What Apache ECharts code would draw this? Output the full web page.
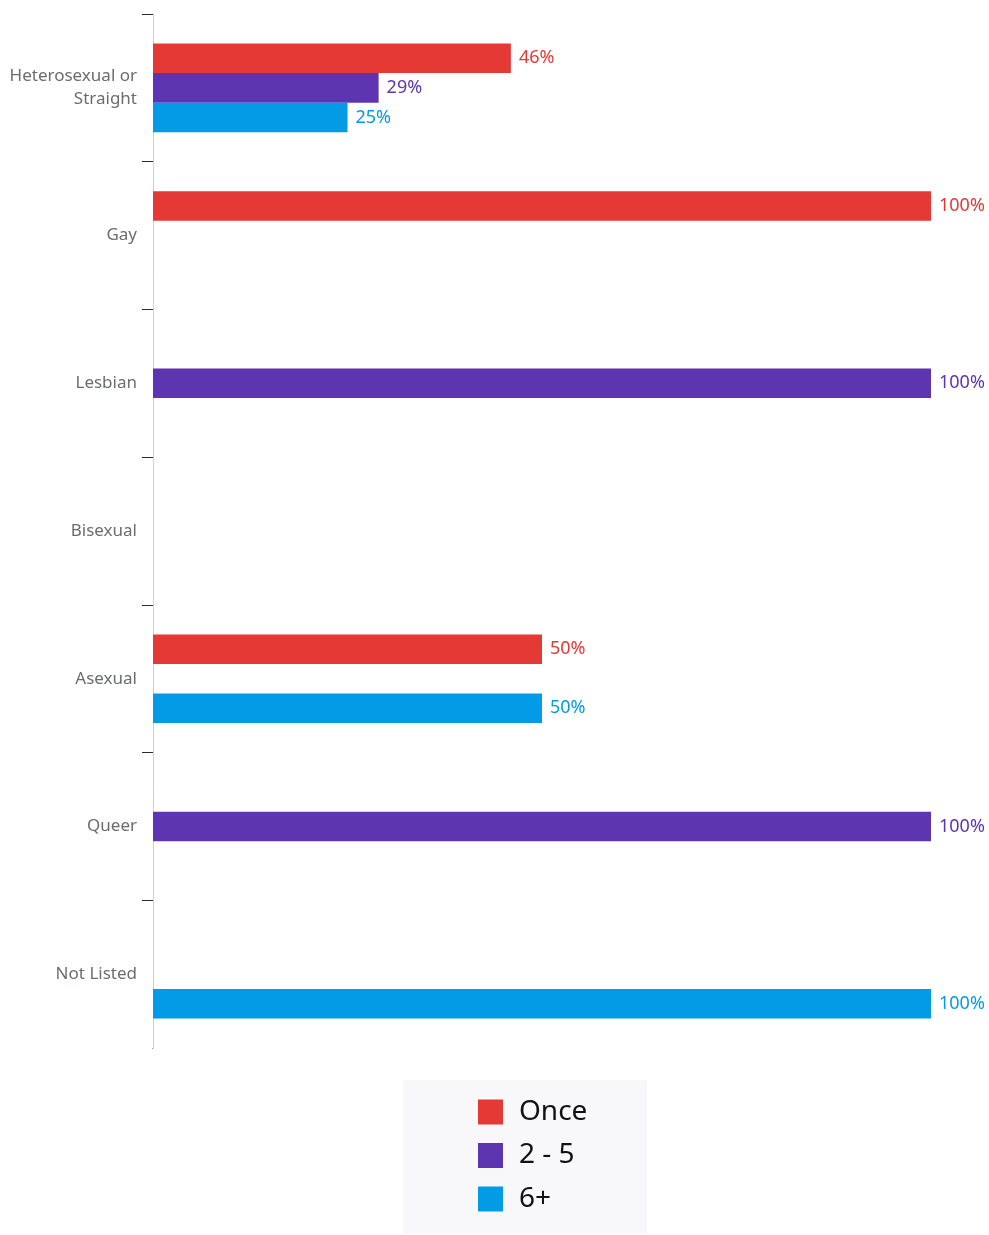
<!DOCTYPE html>
<html>
<head>
<meta charset="utf-8">
<script src="https://cdn.jsdelivr.net/npm/echarts@6/dist/echarts.min.js"></script>
<style>html,body{margin:0;padding:0;background:#fff;}#c{width:989px;height:1235px;}</style>
</head>
<body>
<div id="c"></div>
<script>
const categories = ['Heterosexual or\nStraight', 'Gay', 'Lesbian', 'Bisexual', 'Asexual', 'Queer', 'Not Listed'];
const seriesNames = ['Once', '2 - 5', '6+'];
const onceValues = [46, 100, null, null, 50, null, null];
const twoToFiveValues = [29, null, 100, null, null, 100, null];
const sixPlusValues = [25, null, null, null, 50, null, 100];
const colors = ['#E53935', '#5E35B1', '#039BE5'];

const chart = echarts.init(document.getElementById('c'), null, {renderer: 'canvas'});
const font = '"Noto Sans", sans-serif';
function mk(name, data, color) {
  return {
    name: name, type: 'bar', data: data,
    barGap: 0, barCategoryGap: '40%',
    itemStyle: {color: color},
    label: {show: true, position: 'right', distance: 8, formatter: '{c}%', color: color, fontSize: 18, fontFamily: font},
    emphasis: {disabled: true}
  };
}
chart.setOption({
  animation: false,
  grid: {left: 153, right: 58, top: 14, bottom: 187},
  xAxis: {type: 'value', min: 0, max: 100, show: false},
  yAxis: {
    type: 'category', data: categories, inverse: true,
    axisLine: {show: true, lineStyle: {color: '#cfd1d3', width: 1}},
    axisTick: {show: true, length: 11, lineStyle: {color: '#2a2a2a', width: 1}},
    axisLabel: {color: '#6a6d70', fontSize: 17, fontFamily: font, margin: 16, lineHeight: 23, align: 'right'}
  },
  legend: {
    orient: 'vertical', left: 478, top: 1098, padding: 0,
    itemWidth: 25, itemHeight: 25, itemGap: 15.5,
    icon: 'rect',
    textStyle: {fontSize: 28, lineHeight: 25, color: '#111', fontFamily: font, padding: [0, 0, 0, 11]},
    data: seriesNames
  },
  graphic: [
    {type: 'rect', left: 403, top: 1080, z: -10, shape: {width: 244, height: 153}, style: {fill: '#f8f8fa'}},
    {type: 'rect', left: 138, top: 1045, z: 100, shape: {width: 14.5, height: 6}, style: {fill: '#ffffff'}}
  ],
  series: [
    mk(seriesNames[0], onceValues, colors[0]),
    mk(seriesNames[1], twoToFiveValues, colors[1]),
    mk(seriesNames[2], sixPlusValues, colors[2])
  ]
});
</script>
</body>
</html>
